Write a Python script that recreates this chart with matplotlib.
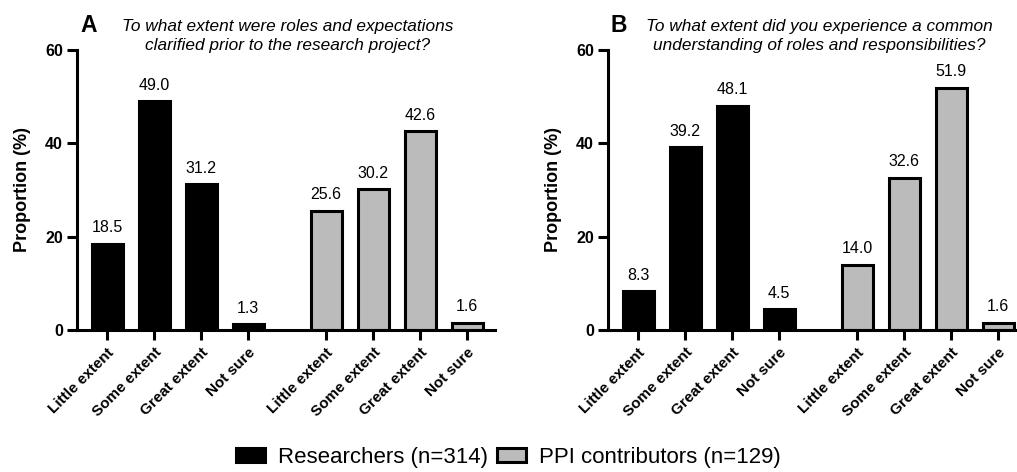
import numpy as np
import matplotlib
matplotlib.use('Agg')
import matplotlib.pyplot as plt
from matplotlib.patches import Patch

plt.rcParams['font.family'] = ['Liberation Sans', 'DejaVu Sans']

categories = ['Little extent', 'Some extent', 'Great extent', 'Not sure']
researchers_a = [18.5, 49.0, 31.2, 1.3]
ppi_a = [25.6, 30.2, 42.6, 1.6]
researchers_b = [8.3, 39.2, 48.1, 4.5]
ppi_b = [14.0, 32.6, 51.9, 1.6]
titles = ['To what extent were roles and expectations\nclarified prior to the research project?',
          'To what extent did you experience a common\nunderstanding of roles and responsibilities?']
letters = ['A', 'B']
legend_labels = ['Researchers (n=314)', 'PPI contributors (n=129)']

W, H = 1017, 472
fig = plt.figure(figsize=(W / 100, H / 100), dpi=100)

pos_r = np.arange(1, 5)
pos_p = pos_r + 4.66
grey = '#bbbbbb'
lw = 2.2


def panel(left_px, res, ppi, title, letter):
    ax = fig.add_axes([left_px / W, 1 - 330 / H, 418 / W, 280 / H])
    ax.bar(pos_r, res, width=0.66, color='black', edgecolor='black', linewidth=lw)
    ax.bar(pos_p, ppi, width=0.66, color=grey, edgecolor='black', linewidth=lw)
    for x, v in zip(np.concatenate([pos_r, pos_p]), res + ppi):
        ax.text(x, v + 1.8, f'{v:.1f}', ha='center', va='bottom', fontsize=11.5)
    ax.set_xlim(0.36, 9.25)
    ax.set_ylim(0, 60)
    ax.set_yticks([0, 20, 40, 60])
    ax.set_xticks(np.concatenate([pos_r, pos_p]))
    ax.set_xticklabels(categories * 2, rotation=45, ha='right', rotation_mode='anchor',
                       fontweight='bold', fontsize=11)
    for lab in ax.get_yticklabels():
        lab.set_fontweight('bold')
        lab.set_fontsize(11.5)
    ax.tick_params(axis='both', width=lw, length=7, pad=3)
    ax.tick_params(axis='x', pad=4)
    for s in ['top', 'right']:
        ax.spines[s].set_visible(False)
    for s in ['left', 'bottom']:
        ax.spines[s].set_linewidth(lw)
    ax.set_ylabel('Proportion (%)', fontweight='bold', fontsize=13, labelpad=10)
    fig.text((left_px + 3) / W, 1 - 26 / H, letter, fontsize=16.5, fontweight='bold',
             va='center', ha='left')
    fig.text((left_px + 211) / W, 1 - 36 / H, title, fontsize=12.4, style='italic',
             ha='center', va='center', linespacing=1.3)
    return ax


panel(77, researchers_a, ppi_a, titles[0], letters[0])
panel(608, researchers_b, ppi_b, titles[1], letters[1])

handles = [Patch(facecolor='black', edgecolor='black', linewidth=lw),
           Patch(facecolor=grey, edgecolor='black', linewidth=lw)]
fig.legend(handles, legend_labels, loc='center', bbox_to_anchor=(0.5, 1 - 457 / H),
           ncol=2, frameon=False, fontsize=16, handlelength=1.3, handleheight=0.6,
           columnspacing=0.4, handletextpad=0.6)

fig.savefig('out.png', dpi=100)
